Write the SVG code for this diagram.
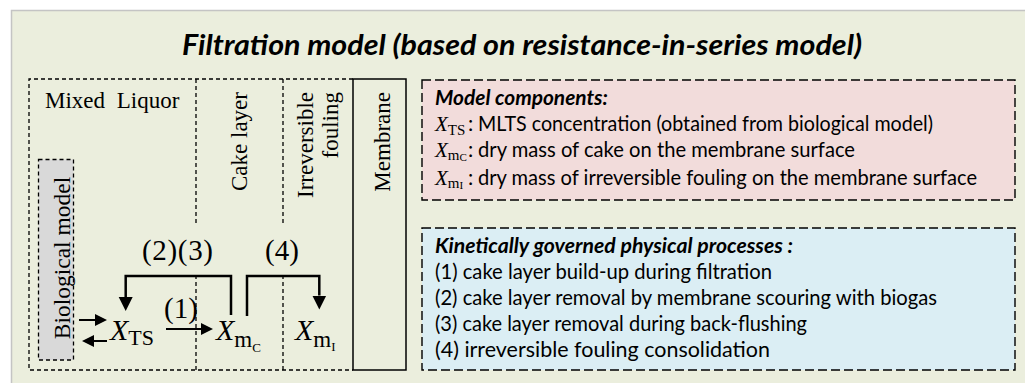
<svg xmlns="http://www.w3.org/2000/svg" width="1025" height="383" viewBox="0 0 1025 383">
<style>
.serif{font-family:"Liberation Serif","Times New Roman",serif;fill:#000}
.sans{font-family:Lato,"Open Sans","Liberation Sans",sans-serif;fill:#000}
.lbl{font-size:23px}
.num{font-size:29px}
.dash{fill:none;stroke:#000;stroke-width:1.3;stroke-dasharray:4 3}
.bdash{stroke:#000;stroke-width:1.4;stroke-dasharray:9 4}
.conn{fill:none;stroke:#000;stroke-width:2.5}
.thin{fill:none;stroke:#000;stroke-width:2}
.body{font-size:21px}
</style>
<defs>
<marker id="ahB" viewBox="0 0 10 10" refX="0" refY="5" markerWidth="14" markerHeight="15" markerUnits="userSpaceOnUse" orient="auto"><path d="M0,0 L10,5 L0,10 z" fill="#000"/></marker>
<marker id="ahS" viewBox="0 0 10 10" refX="0" refY="5" markerWidth="12" markerHeight="12" markerUnits="userSpaceOnUse" orient="auto"><path d="M0,0 L10,5 L0,10 z" fill="#000"/></marker>
</defs>
<rect x="11.5" y="10.5" width="1020" height="380" fill="#EBEEDD" stroke="#C4C4C4" stroke-width="1.5"/>
<g id="title">
<text class="sans" x="182" y="55" font-size="29" font-weight="bold" font-style="italic" textLength="680" lengthAdjust="spacingAndGlyphs">Filtration model (based on resistance-in-series model)</text>
</g>
<g id="mixed-liquor">
<path class="dash" d="M353,79 H29 V370 H353"/>
<path class="dash" d="M196,79 V225 M196,275 V370"/>
<text class="serif lbl" x="45" y="108" word-spacing="6">Mixed Liquor</text>
</g>
<g id="cake-layer">
<path class="dash" d="M283,79 V225 M283,275 V370"/>
<text class="serif lbl" transform="translate(247,92) rotate(-90)" text-anchor="end">Cake layer</text>
</g>
<g id="irreversible-fouling">
<text class="serif lbl" transform="translate(313,92) rotate(-90)" text-anchor="end">Irreversible</text>
<text class="serif lbl" transform="translate(338,92) rotate(-90)" text-anchor="end">fouling</text>
</g>
<g id="membrane">
<rect x="353" y="79" width="53" height="291" fill="none" stroke="#000" stroke-width="1.5"/>
<text class="serif lbl" transform="translate(390,92) rotate(-90)" text-anchor="end">Membrane</text>
</g>
<g id="biological-model">
<rect class="dash" x="38.5" y="159.5" width="35" height="200.5" style="fill:#D9D9D9"/>
<text class="serif" font-size="23.5" transform="translate(70,258) rotate(-90)" text-anchor="middle">Biological model</text>
</g>
<g id="X-TS">
<text class="serif" x="110" y="340" font-size="30"><tspan font-style="italic">X</tspan><tspan font-size="22" dy="5">TS</tspan></text>
</g>
<g id="X-mC">
<text class="serif" x="216" y="340" font-size="30"><tspan font-style="italic">X</tspan><tspan font-size="23" dy="7">m</tspan><tspan font-size="13" dy="5">C</tspan></text>
</g>
<g id="X-mI">
<text class="serif" x="295" y="340" font-size="30"><tspan font-style="italic">X</tspan><tspan font-size="23" dy="7">m</tspan><tspan font-size="13" dy="4">I</tspan></text>
</g>
<g id="connectors">
<path class="conn" d="M231,315 V276 H125.7 V297" marker-end="url(#ahB)"/>
<path class="conn" d="M247,316 V276 H319.3 V295.5" marker-end="url(#ahB)"/>
<path class="thin" d="M166,329 H201" marker-end="url(#ahS)"/>
<path class="thin" d="M79,320 H95" marker-end="url(#ahS)"/>
<path class="thin" d="M107,341 H94" marker-end="url(#ahS)"/>
<text class="serif num" x="142" y="260" textLength="71">(2)(3)</text>
<text class="serif num" x="265" y="260">(4)</text>
<text class="serif num" x="164" y="318">(1)</text>
</g>
<g id="model-components">
<rect x="422" y="80" width="593" height="120" fill="#F2DCDB" class="bdash"/>
<text class="sans body" x="435" y="105" font-weight="bold" font-style="italic" textLength="173" lengthAdjust="spacingAndGlyphs">Model components:</text>
<text class="serif" x="435" y="131" font-size="21"><tspan font-style="italic">X</tspan><tspan font-size="15" dy="4">TS</tspan></text>
<text class="sans body" x="468" y="131">:</text>
<text class="sans body" x="478" y="131" textLength="455" lengthAdjust="spacingAndGlyphs">MLTS concentration (obtained from biological model)</text>
<text class="serif" x="435" y="157" font-size="21"><tspan font-style="italic">X</tspan><tspan font-size="15" dy="3">m</tspan><tspan font-size="11" dy="1">C</tspan></text>
<text class="sans body" x="468" y="157">:</text>
<text class="sans body" x="478" y="157" textLength="377" lengthAdjust="spacingAndGlyphs">dry mass of cake on the membrane surface</text>
<text class="serif" x="435" y="185" font-size="21"><tspan font-style="italic">X</tspan><tspan font-size="15" dy="3">m</tspan><tspan font-size="11" dy="1">I</tspan></text>
<text class="sans body" x="468" y="185">:</text>
<text class="sans body" x="478" y="185" textLength="499" lengthAdjust="spacingAndGlyphs">dry mass of irreversible fouling on the membrane surface</text>
</g>
<g id="physical-processes">
<rect x="422" y="228" width="593" height="142" fill="#DBEEF4" class="bdash"/>
<text class="sans body" x="435" y="253" font-weight="bold" font-style="italic" textLength="358" lengthAdjust="spacingAndGlyphs">Kinetically governed physical processes :</text>
<text class="sans body" x="435" y="279" textLength="337" lengthAdjust="spacingAndGlyphs">(1) cake layer build-up during filtration</text>
<text class="sans body" x="435" y="305" textLength="502" lengthAdjust="spacingAndGlyphs">(2) cake layer removal by membrane scouring with biogas</text>
<text class="sans body" x="435" y="331" textLength="372" lengthAdjust="spacingAndGlyphs">(3) cake layer removal during back-flushing</text>
<text class="sans body" x="435" y="357" textLength="335" lengthAdjust="spacingAndGlyphs">(4) irreversible fouling consolidation</text>
</g>
</svg>
